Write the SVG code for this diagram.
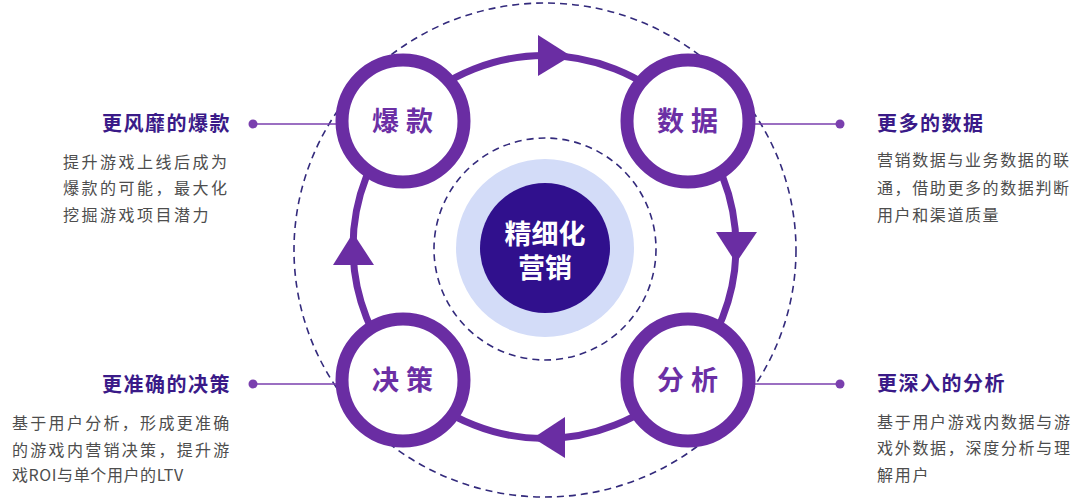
<svg xmlns="http://www.w3.org/2000/svg" width="1080" height="501" viewBox="0 0 1080 501">
<style>
.ring{fill:#fff;stroke:#6a2da3;stroke-width:13}
.nl{font-family:"Noto Sans CJK SC","Noto Sans",sans-serif;font-weight:700;font-size:27px;fill:#6b2fa5;letter-spacing:7px;text-anchor:middle}
.ttl{font-family:"Noto Sans CJK SC","Noto Sans",sans-serif;font-weight:700;font-size:20px;fill:#3a1a88;letter-spacing:1.5px}
.body{font-family:"Noto Sans CJK SC","Noto Sans",sans-serif;font-size:16px;fill:#4d4d4d}
.ctr{font-family:"Noto Sans CJK SC","Noto Sans",sans-serif;font-weight:700;font-size:27px;fill:#fff;text-anchor:middle}
.lead{stroke:#7a3fae;stroke-width:1.6;fill:none}
.dot{fill:#7a3fae}
.dash{fill:none;stroke:#332a7c;stroke-width:1.6;stroke-dasharray:7 5}
.arrow{fill:#6a2da3}
</style>
<g id="background-circles">
<ellipse class="dash" cx="545" cy="250" rx="251" ry="247"/>
<circle class="dash" cx="545" cy="249" r="111"/>
</g>
<g id="connectors">
<circle cx="544.5" cy="247" r="191.5" fill="none" stroke="#6a2da3" stroke-width="7"/>
<polygon class="arrow" points="538,35 538,76 571,56"/>
<polygon class="arrow" points="716,232 757,232 736,263"/>
<polygon class="arrow" points="565,417 565,458 533,438"/>
<polygon class="arrow" points="333,265 374,265 353,233"/>
<line class="lead" x1="253" y1="124" x2="337" y2="124"/>
<circle class="dot" cx="253" cy="124" r="4.5"/>
<line class="lead" x1="755" y1="124" x2="840" y2="124"/>
<circle class="dot" cx="840" cy="124" r="4.5"/>
<line class="lead" x1="253" y1="384" x2="337" y2="384"/>
<circle class="dot" cx="253" cy="384" r="4.5"/>
<line class="lead" x1="755" y1="384" x2="840" y2="384"/>
<circle class="dot" cx="840" cy="384" r="4.5"/>
</g>
<g id="center">
<circle cx="545" cy="248" r="89" fill="#d3dcf8"/>
<circle cx="545" cy="248" r="65" fill="#30108d"/>
<text class="ctr" x="545" y="244">精细化</text>
<text class="ctr" x="545" y="278">营销</text>
</g>
<g id="node-baokuan">
<circle class="ring" cx="403" cy="121" r="61"/>
<text class="nl" x="406" y="131">爆款</text>
</g>
<g id="node-shuju">
<circle class="ring" cx="688" cy="121" r="61"/>
<text class="nl" x="691" y="131">数据</text>
</g>
<g id="node-juece">
<circle class="ring" cx="403" cy="380" r="61"/>
<text class="nl" x="406" y="390">决策</text>
</g>
<g id="node-fenxi">
<circle class="ring" cx="688" cy="380" r="61"/>
<text class="nl" x="691" y="390">分析</text>
</g>
<g id="text-tl">
<text class="ttl" x="231" y="131" text-anchor="end">更风靡的爆款</text>
<text class="body" x="63" y="168" letter-spacing="2.5">提升游戏上线后成为</text>
<text class="body" x="63" y="194" letter-spacing="2.5">爆款的可能，最大化</text>
<text class="body" x="63" y="221" letter-spacing="2.5">挖掘游戏项目潜力</text>
</g>
<g id="text-tr">
<text class="ttl" x="877" y="131">更多的数据</text>
<text class="body" x="877" y="166" letter-spacing="1.6">营销数据与业务数据的联</text>
<text class="body" x="877" y="194" letter-spacing="1.6">通，借助更多的数据判断</text>
<text class="body" x="877" y="221" letter-spacing="1.6">用户和渠道质量</text>
</g>
<g id="text-bl">
<text class="ttl" x="231" y="392" text-anchor="end">更准确的决策</text>
<text class="body" x="12" y="429" letter-spacing="2.3">基于用户分析，形成更准确</text>
<text class="body" x="12" y="456" letter-spacing="2.3">的游戏内营销决策，提升游</text>
<text class="body" x="12" y="481" letter-spacing="0.6">戏ROI与单个用户的LTV</text>
</g>
<g id="text-br">
<text class="ttl" x="877" y="391">更深入的分析</text>
<text class="body" x="877" y="428" letter-spacing="1.7">基于用户游戏内数据与游</text>
<text class="body" x="877" y="454" letter-spacing="1.7">戏外数据，深度分析与理</text>
<text class="body" x="877" y="481" letter-spacing="1.7">解用户</text>
</g>
</svg>
